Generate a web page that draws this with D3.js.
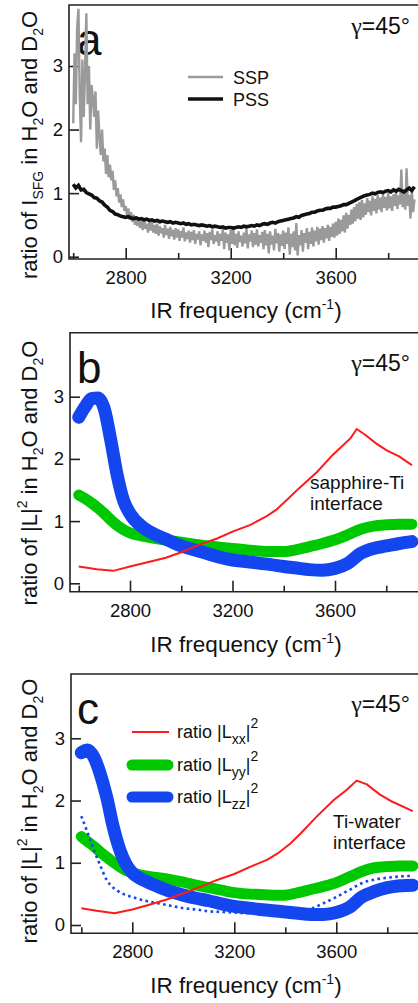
<!DOCTYPE html>
<html><head><meta charset="utf-8">
<script src="https://cdn.jsdelivr.net/npm/d3@7"></script>
<style>
body{margin:0;background:#fff}
svg{display:block}
text{font-family:"Liberation Sans",Arial,Helvetica,sans-serif;fill:#111}
</style>
</head><body>
<svg id="chart" width="418" height="1003"></svg>
<script>
// ---------- ticks ----------
const xTicksMajor = [2800, 3200, 3600];
const xTicksMinor = [2600, 3000, 3400, 3800];
const yTicks = [0, 1, 2, 3];

// ---------- panel a : measured SFG ratio ----------
const sspStart = 2600, sspStep = 5;
const sspRatio = [
 2.1,3.2,2.4,3.6,3.9,2.5,1.8,3.1,2.2,2.9,
 3.83,2.4,3.0,2.0,2.7,2.5,2.2,2.6,1.7,2.3,
 1.9,1.6,2.0,1.5,1.7,1.3,1.6,1.25,1.45,1.2,
 1.35,1.05,1.2,0.95,1.08,0.85,0.98,0.78,0.9,0.72,
 0.8,0.65,0.76,0.58,0.7,0.55,0.66,0.5,0.63,0.48,
 0.62,0.45,0.58,0.42,0.6,0.44,0.52,0.38,0.55,0.41,
 0.56,0.38,0.5,0.36,0.52,0.33,0.48,0.37,0.45,0.3,
 0.5,0.34,0.44,0.28,0.47,0.32,0.42,0.27,0.45,0.3,
 0.43,0.25,0.4,0.3,0.46,0.24,0.38,0.28,0.41,0.22,
 0.39,0.26,0.42,0.2,0.36,0.27,0.4,0.18,0.35,0.25,
 0.41,0.22,0.37,0.15,0.39,0.26,0.43,0.2,0.34,0.24,
 0.4,0.17,0.36,0.25,0.44,0.12,0.38,0.22,0.35,0.1,
 0.42,0.2,0.47,0.18,0.36,0.14,0.4,0.23,0.33,0.16,
 0.38,0.21,0.44,0.13,0.35,0.24,0.41,0.15,0.37,0.19,
 0.43,0.16,0.34,0.22,0.39,0.12,0.42,0.18,0.36,0.05,
 0.4,0.19,0.33,0.1,0.44,0.21,0.37,0.08,0.35,0.17,
 0.41,0.12,0.38,0.2,0.46,0.03,0.36,0.15,0.4,0.1,
 0.53,0.02,0.34,0.18,0.42,0.08,0.37,0.22,0.45,0.12,
 0.39,0.2,0.46,0.16,0.41,0.24,0.47,0.19,0.44,0.26,
 0.48,0.22,0.45,0.29,0.5,0.25,0.47,0.31,0.52,0.3,
 0.55,0.33,0.6,0.36,0.58,0.4,0.65,0.38,0.69,0.44,
 0.66,0.5,0.74,0.52,0.78,0.56,0.83,0.6,0.86,0.58,
 0.89,0.62,0.84,0.66,0.92,0.7,0.88,0.65,0.95,0.72,
 0.91,0.68,0.97,0.74,0.93,0.7,0.99,0.77,0.94,0.73,
 1.0,0.76,0.95,0.72,0.98,0.8,1.02,0.75,0.96,0.82,
 1.37,0.78,1.0,0.74,1.39,0.8,0.97,0.6,1.05,0.7,
 0.9];
const pssStart = 2600, pssStep = 10;
const pssRatio = [
 1.14,1.08,1.12,1.05,1.06,1.01,0.99,0.97,0.93,0.92,
 0.88,0.86,0.81,0.78,0.73,0.71,0.67,0.66,0.64,0.63,
 0.62,0.63,0.61,0.60,0.61,0.59,0.60,0.58,0.59,0.57,
 0.58,0.56,0.57,0.55,0.56,0.55,0.54,0.55,0.53,0.54,
 0.53,0.52,0.53,0.51,0.52,0.50,0.51,0.50,0.49,0.50,
 0.49,0.48,0.49,0.47,0.48,0.47,0.46,0.47,0.45,0.46,
 0.46,0.45,0.46,0.47,0.46,0.48,0.47,0.48,0.49,0.48,
 0.50,0.49,0.51,0.52,0.51,0.53,0.54,0.53,0.55,0.56,
 0.57,0.58,0.59,0.60,0.61,0.63,0.62,0.65,0.66,0.67,
 0.68,0.70,0.70,0.72,0.73,0.73,0.75,0.76,0.76,0.78,
 0.78,0.79,0.80,0.82,0.82,0.84,0.86,0.88,0.90,0.92,
 0.94,0.96,0.97,0.98,1.00,0.99,1.01,1.02,1.01,1.03,
 1.04,1.02,1.05,1.03,1.06,1.04,1.02,1.05,1.08,1.04,
 1.10];

// ---------- panels b, c : Fresnel factor ratios ----------
const gridFreq = [2600,2625,2650,2675,2700,2725,2750,2775,2800,2850,2900,2950,3000,3050,3100,3150,3200,3250,3300,3350,3400,3450,3500,3550,3600,3650,3700,3750,3800,3850,3900];
const bLyy = [1.42,1.36,1.29,1.21,1.12,1.02,0.93,0.86,0.81,0.76,0.72,0.69,0.66,0.63,0.6,0.58,0.56,0.54,0.52,0.51,0.51,0.54,0.59,0.64,0.7,0.78,0.87,0.92,0.94,0.95,0.95];
const bLzz = [2.67,2.84,2.97,2.98,2.8,2.3,1.74,1.33,1.12,0.9,0.78,0.69,0.6,0.54,0.48,0.42,0.375,0.35,0.325,0.3,0.27,0.245,0.22,0.21,0.24,0.32,0.48,0.56,0.6,0.64,0.67];
const bLxxFreq = [2600,2670,2735,2800,2880,2940,3000,3070,3140,3200,3270,3330,3370,3420,3460,3530,3590,3660,3685,3720,3760,3800,3850,3900];
const bLxx = [0.27,0.225,0.2,0.27,0.35,0.41,0.5,0.62,0.72,0.83,0.94,1.07,1.18,1.37,1.53,1.79,2.06,2.33,2.48,2.38,2.25,2.14,2.04,1.9];

const cLyy = [1.42,1.34,1.26,1.17,1.09,1.01,0.94,0.88,0.84,0.79,0.76,0.73,0.69,0.64,0.6,0.56,0.52,0.5,0.49,0.48,0.48,0.52,0.57,0.62,0.68,0.77,0.86,0.92,0.94,0.95,0.95];
const cLzz = [2.77,2.81,2.69,2.42,2.05,1.58,1.22,0.98,0.84,0.71,0.62,0.54,0.48,0.43,0.39,0.34,0.3,0.275,0.25,0.23,0.21,0.19,0.17,0.17,0.2,0.28,0.45,0.54,0.6,0.63,0.64];
const cLzzDotted = [1.75,1.48,1.2,0.95,0.72,0.6,0.53,0.48,0.45,0.39,0.35,0.31,0.27,0.25,0.22,0.21,0.2,0.19,0.19,0.19,0.2,0.21,0.26,0.35,0.45,0.56,0.67,0.73,0.76,0.78,0.79];
const cLxxFreq = [2600,2660,2730,2800,2870,2935,3000,3065,3130,3200,3260,3330,3370,3420,3460,3520,3590,3640,3680,3720,3770,3820,3900];
const cLxx = [0.27,0.23,0.19,0.25,0.33,0.41,0.51,0.61,0.72,0.82,0.93,1.05,1.15,1.31,1.47,1.73,2.01,2.17,2.32,2.26,2.1,1.98,1.83];

const legendA = ["SSP", "PSS"];
const legendC = ["xx", "yy", "zz"];

// ---------- drawing ----------
const svg = d3.select("#chart");
const C = {red:"#ff1a1a", green:"#00c800", blue:"#1446f0", gray:"#9a9a9a", black:"#111"};

function panel(p) {
  const g = svg.append("g");
  const x = d3.scaleLinear().domain([2800, 3200]).range([p.x2800, p.x3200]);
  const y = d3.scaleLinear().domain([0, 3]).range([p.y0, p.y3]);
  g.append("path")
    .attr("d", `M420,${p.top}H${p.left}V${p.bottom}H420`)
    .attr("fill", "none").attr("stroke", "#222").attr("stroke-width", 1.6);
  const ax = g.append("g").attr("transform", `translate(0,${p.bottom})`)
    .call(d3.axisBottom(x).tickValues(xTicksMajor).tickSize(-11).tickPadding(12).tickFormat(d3.format("d")));
  const axm = g.append("g").attr("transform", `translate(0,${p.bottom})`)
    .call(d3.axisBottom(x).tickValues(xTicksMinor).tickSize(-6).tickFormat(""));
  const ay = g.append("g").attr("transform", `translate(${p.left},0)`)
    .call(d3.axisLeft(y).tickValues(yTicks).tickSize(-10).tickPadding(6).tickFormat(d3.format("d")));
  [ax, axm, ay].forEach(a => {
    a.select(".domain").remove();
    a.selectAll("line").attr("stroke", "#222").attr("stroke-width", 1.6);
    a.selectAll("text").attr("font-size", 18.5).attr("fill", "#111")
      .attr("font-family", '"Liberation Sans",Arial,sans-serif');
  });
  g.append("text").attr("x", 77).attr("y", p.top + 50).attr("font-size", 44).text(p.letter);
  const gt = g.append("text").attr("x", 410).attr("y", p.top + p.gy).attr("text-anchor", "end")
    .attr("font-size", 23);
  gt.append("tspan").attr("font-family", '"Liberation Serif","DejaVu Serif",serif').attr("font-size", 24).text("γ");
  gt.append("tspan").text("=45°");
  const xt = g.append("text").attr("x", 246).attr("y", p.xtY).attr("text-anchor", "middle").attr("font-size", 22.5);
  xt.append("tspan").text("IR frequency (cm");
  xt.append("tspan").attr("dy", -9).attr("font-size", 14).text("-1");
  xt.append("tspan").attr("dy", 9).text(")");
  const yt = g.append("text").attr("transform", `translate(37,${p.ytY}) rotate(-90)`)
    .attr("text-anchor", "middle").attr("font-size", 22);
  p.ytitle(yt);
  return {g, x, y};
}

function subsup(t, parts) {
  parts.forEach(([s, kind]) => {
    const ts = t.append("tspan").text(s);
    if (kind === "sub") ts.attr("dy", 6).attr("font-size", 14);
    if (kind === "sup") ts.attr("dy", -10).attr("font-size", 14);
    if (kind === "back-sub") ts.attr("dy", -6);
    if (kind === "back-sup") ts.attr("dy", 10);
  });
}

// Panel a
const A = panel({letter:"a", left:69, top:5, bottom:259, x2800:125.7, x3200:230.7, y0:256.7, y3:66,
  gy:29, xtY:318, ytY:145,
  ytitle: t => subsup(t, [["ratio of I"],["SFG","sub"],[" in H","back-sub"],["2","sub"],["O and D","back-sub"],["2","sub"],["O","back-sub"]])});
const sspPts = sspRatio.map((v, i) => [sspStart + i * sspStep, v]);
const pssPts = pssRatio.map((v, i) => [pssStart + i * pssStep, v]);
const lineA = d3.line().x(d => A.x(d[0])).y(d => A.y(d[1]));
A.g.append("path").attr("d", lineA(sspPts)).attr("fill", "none").attr("stroke", C.gray).attr("stroke-width", 2.4);
A.g.append("path").attr("d", lineA(pssPts)).attr("fill", "none").attr("stroke", C.black).attr("stroke-width", 3.6);
[[C.gray, 2.6], [C.black, 3.5]].forEach(([col, w], i) => {
  const ly = 77 + i * 22;
  A.g.append("line").attr("x1", 188).attr("x2", 223).attr("y1", ly).attr("y2", ly)
    .attr("stroke", col).attr("stroke-width", w);
  A.g.append("text").attr("x", 233).attr("y", ly + 7).attr("font-size", 18).text(legendA[i]);
});

// Panel b
const B = panel({letter:"b", left:70, top:332.7, bottom:591.7, x2800:130, x3200:232.5, y0:583.3, y3:396.7,
  gy:38, xtY:651.7, ytY:473,
  ytitle: t => subsup(t, [["ratio of |L|"],["2","sup"],[" in H","back-sup"],["2","sub"],["O and D","back-sub"],["2","sub"],["O","back-sub"]])});
const smoothB = d3.line().x((d, i) => B.x(gridFreq[i])).y(d => B.y(d)).curve(d3.curveMonotoneX);
B.g.append("path").attr("d", smoothB(bLyy)).attr("fill","none").attr("stroke",C.green).attr("stroke-width",11).attr("stroke-linecap","round").attr("stroke-linejoin","round");
B.g.append("path").attr("d", smoothB(bLzz)).attr("fill","none").attr("stroke",C.blue).attr("stroke-width",13).attr("stroke-linecap","round").attr("stroke-linejoin","round");
B.g.append("path").attr("d", d3.line().x((d,i)=>B.x(bLxxFreq[i])).y(d=>B.y(d))(bLxx)).attr("fill","none").attr("stroke",C.red).attr("stroke-width",2);
B.g.append("text").attr("x", 310).attr("y", 489).attr("font-size", 19).text("sapphire-Ti");
B.g.append("text").attr("x", 310).attr("y", 510).attr("font-size", 19).text("interface");

// Panel c
const Cp = panel({letter:"c", left:71, top:674, bottom:933.3, x2800:132.3, x3200:234.3, y0:925, y3:738.3,
  gy:38, xtY:993, ytY:811,
  ytitle: t => subsup(t, [["ratio of |L|"],["2","sup"],[" in H","back-sup"],["2","sub"],["O and D","back-sub"],["2","sub"],["O","back-sub"]])});
const smoothC = d3.line().x((d, i) => Cp.x(gridFreq[i])).y(d => Cp.y(d)).curve(d3.curveMonotoneX);
Cp.g.append("path").attr("d", smoothC(cLyy)).attr("fill","none").attr("stroke",C.green).attr("stroke-width",11).attr("stroke-linecap","round").attr("stroke-linejoin","round");
Cp.g.append("path").attr("d", smoothC(cLzzDotted)).attr("fill","none").attr("stroke",C.blue).attr("stroke-width",2.6).attr("stroke-dasharray","2.6,3.4");
Cp.g.append("path").attr("d", smoothC(cLzz)).attr("fill","none").attr("stroke",C.blue).attr("stroke-width",13).attr("stroke-linecap","round").attr("stroke-linejoin","round");
Cp.g.append("path").attr("d", d3.line().x((d,i)=>Cp.x(cLxxFreq[i])).y(d=>Cp.y(d))(cLxx)).attr("fill","none").attr("stroke",C.red).attr("stroke-width",2);
Cp.g.append("text").attr("x", 333).attr("y", 828).attr("font-size", 19).text("Ti-water");
Cp.g.append("text").attr("x", 333).attr("y", 849).attr("font-size", 19).text("interface");
[[C.red, 2, "butt", 132, 169], [C.green, 11, "round", 132, 168], [C.blue, 11, "round", 132, 168]].forEach(([col, w, cap, x1, x2], i) => {
  const ly = [732, 765, 797][i];
  Cp.g.append("line").attr("x1", x1).attr("x2", x2).attr("y1", ly).attr("y2", ly)
    .attr("stroke", col).attr("stroke-width", w).attr("stroke-linecap", cap);
  const t = Cp.g.append("text").attr("x", 177).attr("y", ly + 6).attr("font-size", 18);
  subsup(t, [["ratio |L"], [legendC[i], "sub"], ["|", "back-sub"], ["2", "sup"]]);
});
</script>
</body></html>
